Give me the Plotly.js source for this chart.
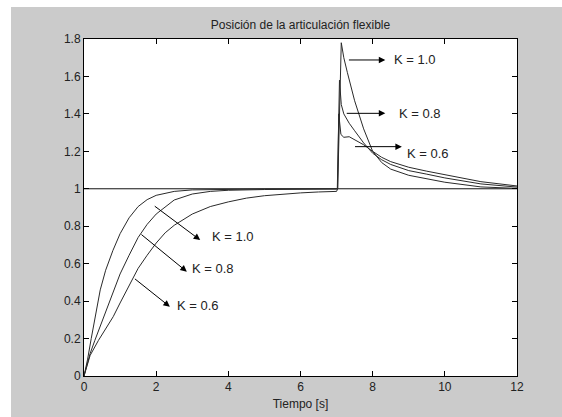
<!DOCTYPE html>
<html>
<head>
<meta charset="utf-8">
<script src="https://cdn.plot.ly/plotly-3.0.1.min.js"></script>
<style>
  html, body { margin: 0; padding: 0; background: #ffffff; width: 562px; height: 417px; overflow: hidden; }
  #chart { position: absolute; left: 11px; top: 7px; width: 551px; height: 410px; }
</style>
</head>
<body>
<div id="chart"></div>
<script>
// Time samples and responses
const tK10 = [0, 0.1, 0.2, 0.3, 0.45, 0.6, 0.8, 1.0, 1.25, 1.5, 1.75, 2.0, 2.5, 3.0, 4.0, 5.0, 7.0,
              7.03, 7.13, 7.2, 7.3, 7.5, 7.75, 8.0, 8.25, 8.5, 9.0, 9.5, 10, 11, 12];
const yK10 = [0, 0.09, 0.2, 0.31, 0.46, 0.565, 0.67, 0.76, 0.845, 0.905, 0.942, 0.965, 0.986, 0.994, 0.998, 0.999, 0.999,
              1.0, 1.78, 1.70, 1.62, 1.47, 1.32, 1.20, 1.14, 1.105, 1.072, 1.052, 1.035, 1.01, 1.002];

const tK08 = [0, 0.1, 0.17, 0.3, 0.5, 0.75, 1.0, 1.25, 1.5, 1.75, 2.0, 2.5, 3.0, 3.5, 4.0, 5.0, 6.0, 7.0,
              7.02, 7.08, 7.13, 7.2, 7.35, 7.5, 7.75, 8.0, 8.25, 8.5, 9.0, 9.5, 10, 11, 12];
const yK08 = [0, 0.07, 0.12, 0.19, 0.29, 0.42, 0.545, 0.645, 0.74, 0.81, 0.865, 0.94, 0.972, 0.986, 0.992, 0.996, 0.998, 0.999,
              1.0, 1.58, 1.45, 1.40, 1.35, 1.31, 1.245, 1.19, 1.155, 1.13, 1.097, 1.078, 1.058, 1.026, 1.009];

const tK06 = [0, 0.17, 0.4, 0.6, 0.81, 1.0, 1.25, 1.5, 1.75, 2.0, 2.25, 2.5, 3.0, 3.5, 4.0, 4.5, 5.0, 5.5, 6.0, 6.5, 7.0,
              7.03, 7.06, 7.12, 7.2, 7.35, 7.5, 7.75, 8.0, 8.25, 8.5, 9.0, 9.5, 10, 11, 12];
const yK06 = [0, 0.11, 0.19, 0.25, 0.317, 0.39, 0.48, 0.575, 0.645, 0.71, 0.765, 0.805, 0.865, 0.905, 0.93, 0.95, 0.963, 0.972, 0.978, 0.983, 0.986,
              1.0, 1.40, 1.29, 1.275, 1.278, 1.262, 1.235, 1.20, 1.168, 1.145, 1.115, 1.094, 1.074, 1.038, 1.015];

const refT = [0, 12];
const refY = [1, 1];

const xTicks = [0, 2, 4, 6, 8, 10, 12];
const yTicks = [0, 0.2, 0.4, 0.6, 0.8, 1, 1.2, 1.4, 1.6, 1.8];

// Labels and arrow positions (data coordinates: tail -> head, label anchor)
const labelText = ['K = 1.0', 'K = 0.8', 'K = 0.6', 'K = 1.0', 'K = 0.8', 'K = 0.6'];
const arrowTailX = [7.30, 7.24, 7.47, 1.92, 1.55, 1.37];
const arrowTailY = [1.688, 1.403, 1.225, 0.913, 0.762, 0.525];
const arrowHeadX = [8.35, 8.35, 8.81, 3.22, 2.85, 2.38];
const arrowHeadY = [1.688, 1.403, 1.225, 0.726, 0.557, 0.370];
const labelX = [8.53, 8.67, 8.90, 3.49, 2.94, 2.52];
const labelY = [1.688, 1.403, 1.19, 0.744, 0.575, 0.379];

const lineStyle = { color: '#2a2a2a', width: 1 };
const traces = [
  { x: refT, y: refY, mode: 'lines', line: { color: '#111', width: 1 }, hoverinfo: 'skip' },
  { x: tK10, y: yK10, mode: 'lines', line: lineStyle, name: 'K = 1.0' },
  { x: tK08, y: yK08, mode: 'lines', line: lineStyle, name: 'K = 0.8' },
  { x: tK06, y: yK06, mode: 'lines', line: lineStyle, name: 'K = 0.6' }
];

const annotations = [];
for (let i = 0; i < labelText.length; i++) {
  annotations.push({
    x: arrowHeadX[i], y: arrowHeadY[i], xref: 'x', yref: 'y',
    ax: arrowTailX[i], ay: arrowTailY[i], axref: 'x', ayref: 'y',
    text: '', showarrow: true, arrowhead: 2, arrowsize: 1.3, arrowwidth: 1,
    arrowcolor: '#000', standoff: 0, startstandoff: 0
  });
  annotations.push({
    x: labelX[i], y: labelY[i], xref: 'x', yref: 'y',
    text: labelText[i], showarrow: false, xanchor: 'left', yanchor: 'middle',
    font: { family: 'Liberation Sans, Arial, sans-serif', size: 13, color: '#222' }
  });
}

const fontFam = 'Liberation Sans, Arial, Helvetica, sans-serif';
const layout = {
  width: 551, height: 410,
  paper_bgcolor: '#cbcbcb', plot_bgcolor: '#ffffff',
  margin: { l: 73, r: 45, t: 32, b: 41, pad: 0 },
  showlegend: false,
  title: { text: 'Posición de la articulación flexible', x: 0.5, xref: 'paper',
           y: 1 - 18 / 410, yref: 'container', yanchor: 'middle',
           font: { family: fontFam, size: 12, color: '#222' } },
  xaxis: {
    range: [0, 12], tickvals: xTicks, ticks: 'inside', ticklen: 5, tickcolor: '#000',
    showline: true, linecolor: '#000', linewidth: 1, mirror: 'ticks',
    showgrid: false, zeroline: false, automargin: false,
    tickfont: { family: fontFam, size: 12, color: '#222' },
    title: { text: 'Tiempo [s]', standoff: 6, font: { family: fontFam, size: 12, color: '#222' } }
  },
  yaxis: {
    range: [0, 1.8], tickvals: yTicks, ticks: 'inside', ticklen: 5, tickcolor: '#000',
    showline: true, linecolor: '#000', linewidth: 1, mirror: 'ticks',
    showgrid: false, zeroline: false, automargin: false,
    tickfont: { family: fontFam, size: 12, color: '#222' }
  },
  annotations: annotations
};

Plotly.newPlot('chart', traces, layout, { staticPlot: true, displayModeBar: false });
</script>
</body>
</html>
